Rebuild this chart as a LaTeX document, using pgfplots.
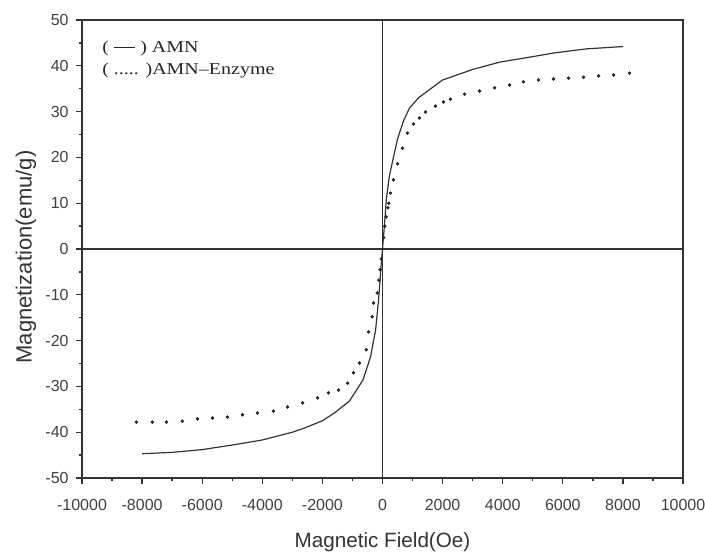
\documentclass[border=0pt]{standalone}
\usepackage{fontspec}
\setmainfont{Liberation Serif}
\newfontfamily\arial{Liberation Sans}
\newfontfamily\legfont[FakeStretch=1.2]{Liberation Serif}
\usepackage{pgfplots}
\pgfplotsset{compat=1.18}
\begin{document}
\begin{tikzpicture}
\useasboundingbox (-61.5pt,-54.75pt) rectangle (467.25pt,358.5pt);
\begin{axis}[
  at={(0,0)}, anchor=south west,
  scale only axis,
  width=450.75pt, height=343.5pt,
  xmin=-10000, xmax=10000, ymin=-50, ymax=50,
  xtick={-10000,-8000,...,10000},
  ytick={-50,-40,...,50},
  minor x tick num=1, minor y tick num=1,
  xtick pos=bottom, ytick pos=left,
  tick align=outside,
  major tick length=4.5pt, minor tick length=2.5pt,
  scaled ticks=false,
  /pgf/number format/assume math mode=true,
  /pgf/number format/set thousands separator={},
  tick label style={font=\arial\fontsize{12}{14}\selectfont, text=black!75},
  xticklabel style={yshift=-8pt},
  yticklabel style={xshift=-2pt},
  axis line style={line width=1.3pt, black!80},
  every tick/.style={line width=1pt, black!80},
  xlabel={Magnetic Field(Oe)},
  ylabel={Magnetization(emu/g)},
  xlabel style={font=\arial\fontsize{15.5}{18}\selectfont, text=black!80, at={(axis description cs:0.5,0)}, anchor=base, yshift=-51.75pt},
  ylabel style={font=\arial\fontsize{16.5}{19}\selectfont, text=black!80, at={(axis description cs:0,0.5)}, anchor=center, xshift=-6pt, yshift=42pt},
  clip=false,
]
\draw[line width=1.2pt, black!80] (axis cs:0,-50) -- (axis cs:0,50);
\draw[line width=1.2pt, black!80] (axis cs:-10000,0) -- (axis cs:10000,0);
\addplot[black!80, line width=0.9pt] coordinates {
(-8000,-44.7) (-7000,-44.4) (-6000,-43.8) (-5000,-42.8) (-4000,-41.7) (-3000,-40.0) (-2600,-39.1) (-2000,-37.5) (-1600,-35.8) (-1100,-33.2) (-650,-28.6) (-400,-23.6) (-230,-17.7) (-130,-11) (-50,-4) (0,0)
(50,4) (130,11) (230,16) (330,19) (500,24) (700,28) (900,30.8) (1200,33) (1460,34.3) (2000,36.9) (3000,39.2) (3900,40.8) (5000,42) (5700,42.8) (6800,43.7) (8000,44.2)
};
\addplot[only marks, mark=*, mark size=1.1pt, black!85] coordinates {
(-8190,-37.8) (-7660,-37.8) (-7190,-37.8) (-6660,-37.6) (-6160,-37.1) (-5660,-36.9) (-5160,-36.7) (-4660,-36.2) (-4160,-35.8) (-3630,-35.4) (-3160,-34.5) (-2660,-33.6) (-2160,-32.5) (-1800,-31.4) (-1460,-30.8) (-1160,-29.3) (-965,-27) (-765,-24.9) (-543,-22) (-466,-18.1) (-343,-14.8) (-300,-11.8) (-176,-9.6) (-120,-6.8) (-80,-4.5) (-40,-2.2) (0,0)
(40,2.5) (80,5) (120,7) (180,9) (210,10) (266,12.2) (366,15.1) (500,18.6) (665,22) (830,25.3) (1030,27.3) (1230,28.6) (1430,29.9) (1760,31.2) (2030,32.1) (2260,32.7) (2730,33.8) (3230,34.5) (3730,35.2) (4230,35.8) (4690,36.5) (5190,36.9) (5690,37.1) (6190,37.3) (6690,37.5) (7190,37.8) (7690,38.0) (8220,38.4)
};
\node[anchor=base west, font=\legfont\fontsize{12.5}{15}\selectfont, inner sep=0pt, text=black!85] at (rel axis cs:0.0333,0.928) {( \rule[0.3em]{16pt}{0.6pt} ) AMN};
\node[anchor=base west, font=\legfont\fontsize{12.5}{15}\selectfont, inner sep=0pt, text=black!85] at (rel axis cs:0.0333,0.882) {( ..... )AMN–Enzyme};
\end{axis}
\end{tikzpicture}
\end{document}
